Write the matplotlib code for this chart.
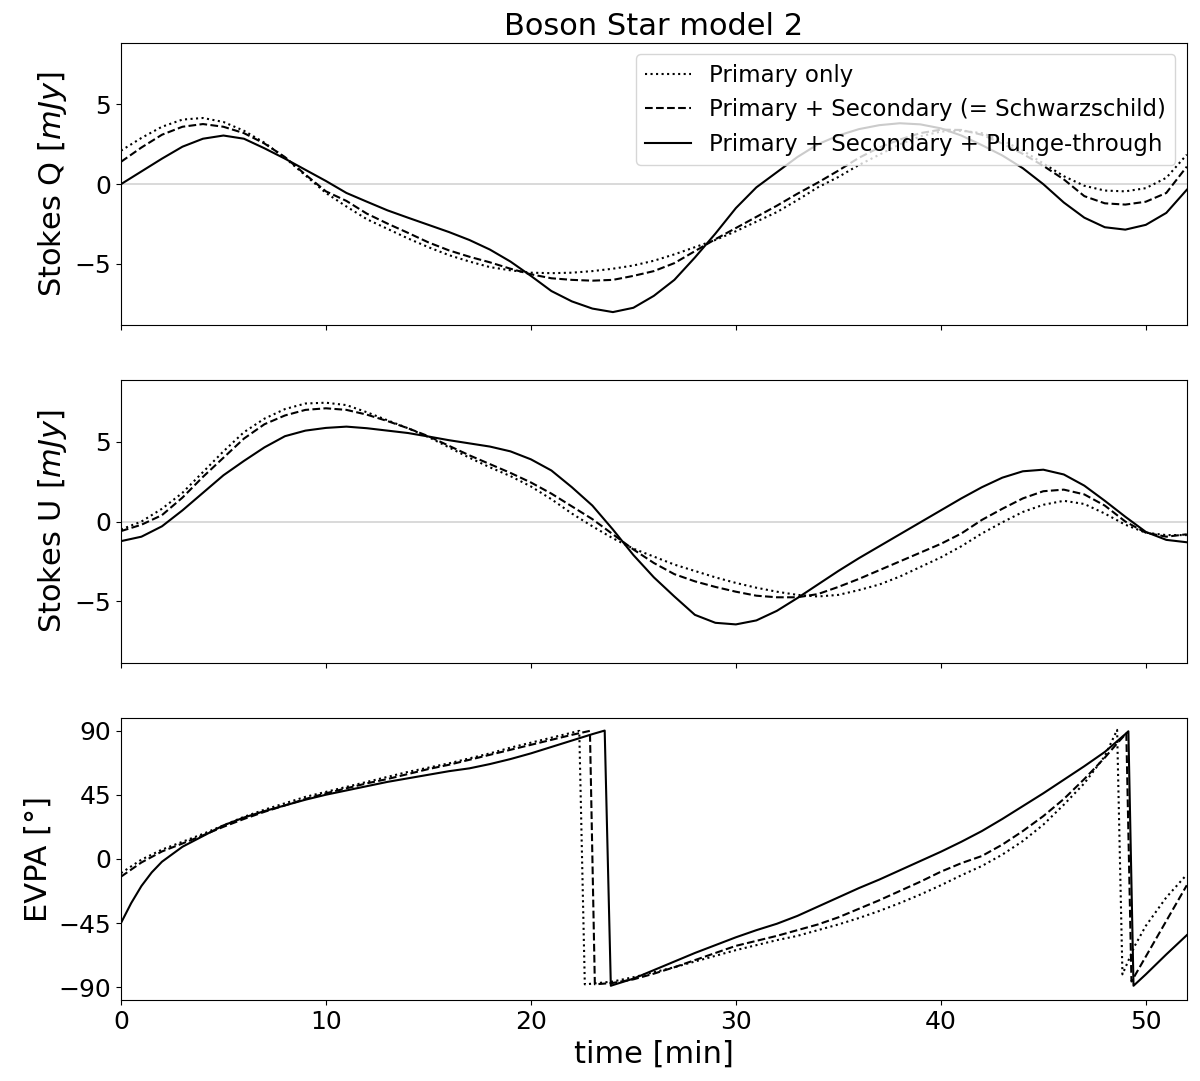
import matplotlib
matplotlib.use("Agg")
import matplotlib.pyplot as plt

# ---------------- data ----------------
t_min = list(range(0, 53))

q_primary = [2.1, 2.9, 3.6, 4.05, 4.15, 3.9, 3.35, 2.6, 1.65, 0.55,
             -0.55, -1.4, -2.2, -2.8, -3.4, -3.95, -4.45, -4.85, -5.2, -5.4,
             -5.55, -5.58, -5.55, -5.45, -5.3, -5.1, -4.8, -4.4, -3.95, -3.5,
             -2.95, -2.35, -1.75, -1.0, -0.2, 0.45, 1.2, 1.85, 2.5, 3.0,
             3.3, 3.35, 3.2, 2.75, 2.1, 1.3, 0.5, -0.1, -0.4, -0.45,
             -0.25, 0.4, 1.85]
q_secondary = [1.4, 2.3, 3.1, 3.6, 3.77, 3.6, 3.2, 2.55, 1.7, 0.6,
               -0.45, -1.05, -1.85, -2.47, -3.05, -3.65, -4.15, -4.55, -4.9, -5.3,
               -5.65, -5.9, -6.0, -6.05, -6.0, -5.75, -5.45, -4.95, -4.2, -3.45,
               -2.75, -2.05, -1.35, -0.6, 0.1, 0.85, 1.65, 2.3, 2.8, 3.2,
               3.42, 3.4, 3.1, 2.55, 1.9, 1.15, 0.3, -0.75, -1.2, -1.28,
               -1.1, -0.55, 1.1]
q_plunge = [0.0, 0.8, 1.6, 2.35, 2.85, 3.05, 2.85, 2.25, 1.6, 0.9,
            0.2, -0.55, -1.1, -1.64, -2.1, -2.55, -3.0, -3.5, -4.1, -4.85,
            -5.75, -6.7, -7.35, -7.8, -8.02, -7.75, -7.0, -6.0, -4.6, -3.1,
            -1.5, -0.2, 0.75, 1.7, 2.5, 3.05, 3.45, 3.7, 3.82, 3.75,
            3.5, 3.05, 2.45, 1.8, 1.0, 0.0, -1.15, -2.1, -2.7, -2.85,
            -2.55, -1.8, -0.35]

u_primary = [-0.5, 0.0, 0.8, 1.8, 3.1, 4.4, 5.6, 6.45, 7.05, 7.4,
             7.45, 7.3, 6.85, 6.35, 5.85, 5.3, 4.65, 4.0, 3.4, 2.85,
             2.2, 1.4, 0.5, -0.3, -1.05, -1.7, -2.2, -2.7, -3.1, -3.5,
             -3.85, -4.15, -4.4, -4.6, -4.7, -4.6, -4.3, -3.95, -3.45, -2.85,
             -2.25, -1.55, -0.75, -0.05, 0.6, 1.05, 1.3, 1.1, 0.5, -0.2,
             -0.7, -0.85, -0.85]
u_secondary = [-0.6, -0.2, 0.4, 1.5, 2.8, 4.0, 5.2, 6.1, 6.65, 7.0,
               7.1, 7.0, 6.7, 6.3, 5.85, 5.35, 4.75, 4.15, 3.6, 3.05,
               2.45, 1.75, 0.95, 0.15, -0.8, -1.75, -2.6, -3.3, -3.75, -4.1,
               -4.4, -4.65, -4.75, -4.75, -4.55, -4.1, -3.6, -3.05, -2.5, -1.95,
               -1.4, -0.75, 0.1, 0.8, 1.45, 1.9, 2.0, 1.7, 1.0, 0.0,
               -0.7, -0.95, -0.8]
u_plunge = [-1.23, -0.95, -0.3, 0.7, 1.8, 2.9, 3.8, 4.65, 5.35, 5.7,
            5.87, 5.95, 5.85, 5.7, 5.55, 5.33, 5.1, 4.9, 4.7, 4.4,
            3.9, 3.2, 2.15, 1.0, -0.5, -2.1, -3.5, -4.7, -5.85, -6.35,
            -6.45, -6.2, -5.6, -4.8, -3.95, -3.1, -2.3, -1.55, -0.8, -0.05,
            0.7, 1.45, 2.15, 2.75, 3.15, 3.25, 2.95, 2.25, 1.3, 0.3,
            -0.65, -1.15, -1.3]

evpa_primary_t = [0, 1, 2, 3, 4, 5, 6, 7, 8, 9, 10, 11, 12, 13, 14, 15, 16, 17, 18, 19,
                  20, 21, 22, 22.36, 22.63, 23, 24, 25, 26, 27, 28, 29, 30, 31, 32, 33,
                  34, 35, 36, 37, 38, 39, 40, 41, 42, 43, 44, 45, 46, 47, 48, 48.6,
                  48.86, 49.46, 50, 51, 52]
evpa_primary = [-10, -0.5, 6.5, 12, 17.5, 23.5, 29.5, 34.5, 39, 43.5, 47, 50.5, 54, 57.5,
                61, 64, 67, 70.5, 74, 78, 81.5, 85, 88.5, 89.8, -88, -87.5, -86, -83,
                -79.5, -76, -72, -68, -64, -60.5, -57, -54, -50, -46, -41.5, -36.5, -31,
                -25, -18.5, -11.5, -5, 3, 12.5, 24, 38, 53, 72, 90.5, -81, -61, -47,
                -27, -11]

evpa_secondary_t = [0, 1, 2, 3, 4, 5, 6, 7, 8, 9, 10, 11, 12, 13, 14, 15, 16, 17, 18, 19,
                    20, 21, 22, 22.88, 23.12, 24, 25, 26, 27, 28, 29, 30, 31, 32, 33, 34,
                    35, 36, 37, 38, 39, 40, 41, 42, 43, 44, 45, 46, 47, 48, 48.6, 49.05,
                    49.3, 50, 51, 52]
evpa_secondary = [-12.5, -2.5, 5.2, 10.8, 16.5, 22.5, 28, 33, 37.5, 42, 46, 49.5, 53, 56,
                  59.5, 63, 66, 69.5, 73, 76.5, 80, 83.5, 87, 89.8, -88, -87, -84.5, -80.5,
                  -76, -71, -66, -61, -57.5, -54, -50, -46, -41, -35, -29, -22.5, -16, -9,
                  -3, 2, 10, 19.5, 30, 42, 56, 71, 81, 88, -86, -68.5, -43.5, -18.5]

evpa_plunge_t = [0, 0.5, 1, 1.5, 2, 3, 4, 5, 6, 7, 8, 9, 10, 11, 12, 13, 14, 15, 16, 17,
                 18, 19, 20, 21, 22, 23, 23.6, 23.9, 24, 25, 26, 27, 28, 29, 30, 31, 32,
                 33, 34, 35, 36, 37, 38, 39, 40, 41, 42, 43, 44, 45, 46, 47, 48, 49,
                 49.15, 49.4, 50, 51, 52]
evpa_plunge = [-45, -31, -19, -9.5, -2, 8.5, 16, 23.5, 29, 33.5, 37.5, 41.5, 45, 48, 51,
               54, 56.5, 59, 61.5, 63.5, 66.5, 70, 74, 78.5, 83, 87.5, 90, -89, -88.5,
               -84, -78, -72, -66, -60.5, -55, -50, -45.5, -40, -33.5, -27, -20.5, -14.5,
               -8, -1.5, 5, 12, 19.5, 28, 37, 46, 55.5, 65, 75, 87.5, 89.5, -89, -81,
               -67, -53.5]

labels = ["Primary only",
          "Primary + Secondary (= Schwarzschild)",
          "Primary + Secondary + Plunge-through"]
styles = [":", "--", "-"]
evpa_ticks = [-90, -45, 0, 45, 90]
x_ticks = [0, 10, 20, 30, 40, 50]

# ---------------- plot ----------------
plt.rcParams['font.family'] = ['DejaVu Sans']
fig, axes = plt.subplots(3, 1, figsize=(12, 10.81), dpi=100, sharex=True)
fig.subplots_adjust(left=0.1008, right=0.989, top=0.9602, bottom=0.0749, hspace=0.195)
ax1, ax2, ax3 = axes

for ax in (ax1, ax2):
    ax.axhline(0, color='lightgray', lw=1.2, zorder=0)

for series, ls, lab in zip([q_primary, q_secondary, q_plunge], styles, labels):
    ax1.plot(t_min, series, ls, color='black', lw=1.5, label=lab)
for series, ls in zip([u_primary, u_secondary, u_plunge], styles):
    ax2.plot(t_min, series, ls, color='black', lw=1.5)
for tt, series, ls in zip([evpa_primary_t, evpa_secondary_t, evpa_plunge_t],
                          [evpa_primary, evpa_secondary, evpa_plunge], styles):
    ax3.plot(tt, series, ls, color='black', lw=1.5)

ax1.set_ylim(-8.85, 8.85)
ax2.set_ylim(-8.85, 8.85)
ax3.set_ylim(-99, 99)
ax3.set_yticks(evpa_ticks)
ax3.set_xlim(0, 52)
ax3.set_xticks(x_ticks)

ax1.set_ylabel("Stokes Q [$mJy$]", fontsize=22)
ax2.set_ylabel("Stokes U [$mJy$]", fontsize=22)
ax3.set_ylabel("EVPA [°]", fontsize=22)
ax3.set_xlabel("time [min]", fontsize=22)
ax1.set_title("Boson Star model 2", fontsize=22)

for ax in axes:
    ax.tick_params(labelsize=18)

ax1.legend(loc='upper right', fontsize=16.5)

fig.savefig("out.png", dpi=100)
